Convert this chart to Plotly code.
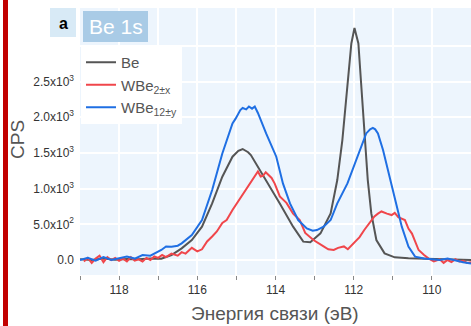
import plotly.graph_objects as go

# ---------------- data ----------------
be_e = [119.0, 118.7, 118.4, 118.1, 117.8, 117.5, 117.2, 116.92, 116.66, 116.4, 116.14, 115.88,
        115.62, 115.36, 115.1, 114.95, 114.84, 114.7, 114.63, 114.5, 114.24, 113.89, 113.55,
        113.29, 113.11, 112.85, 112.59, 112.42, 112.29, 112.16, 112.06, 111.98, 111.88, 111.81,
        111.73, 111.64, 111.55, 111.42, 111.21, 110.95, 110.6, 110.2, 109.8, 109.4, 109.0]
be_cps = [10, 0, 20, 5, 15, 10, 20, 17, 70, 163, 280, 467, 793, 1167, 1447, 1530, 1555, 1510,
          1470, 1353, 1120, 793, 467, 257, 250, 373, 653, 1120, 1680, 2473, 3033, 3250, 3033,
          2473, 1773, 1120, 653, 280, 93, 37, 23, 15, 10, 5, 0]

wbe2_e = [118.9, 118.8, 118.7, 118.6, 118.5, 118.4, 118.3, 118.2, 118.1, 118.0, 117.9, 117.8,
          117.7, 117.6, 117.5, 117.4, 117.3, 117.2, 117.1, 117.0, 116.9, 116.8, 116.66, 116.5,
          116.4, 116.3, 116.14, 116.0, 115.88, 115.75, 115.62, 115.5, 115.36, 115.25, 115.1,
          114.93, 114.76, 114.58, 114.45, 114.38, 114.32, 114.25, 114.19, 114.1, 114.02, 113.89,
          113.72, 113.55, 113.38, 113.24, 113.03, 112.9, 112.77, 112.65, 112.51, 112.4, 112.25,
          112.15, 111.99, 111.85, 111.73, 111.6, 111.47, 111.38, 111.29, 111.15, 111.03, 110.95,
          110.86, 110.69, 110.6, 110.51, 110.42, 110.34, 110.2, 110.08, 109.95, 109.8, 109.7,
          109.6, 109.5, 109.4, 109.3, 109.2, 109.1, 109.0]
wbe2_cps = [-20, 30, -40, 20, 60, -30, 40, 0, 30, -10, 20, -20, 40, -10, 10, -20, 30, 0, 50, 30,
            70, 40, 90, 60, 110, 90, 170, 120, 150, 260, 330, 400, 520, 560, 700, 840, 980, 1120,
            1240, 1170, 1180, 1230, 1200, 1150, 1070, 890, 800, 650, 560, 380, 280, 230, 190, 150,
            140, 170, 190, 150, 240, 320, 420, 520, 610, 650, 680, 650, 630, 660, 600, 560, 440,
            370, 250, 140, 70, 20, -20, 10, -40, 0, -30, 10, -20, -10, -40, -30]

wbe12_e = [119.0, 118.8, 118.6, 118.4, 118.2, 118.0, 117.8, 117.6, 117.4, 117.2, 117.0, 116.92,
           116.8, 116.66, 116.5, 116.4, 116.14, 115.88, 115.62, 115.36, 115.1, 115.02, 114.9,
           114.84, 114.75, 114.68, 114.6, 114.53, 114.45, 114.24, 113.98, 113.81, 113.63, 113.42,
           113.2, 113.05, 112.94, 112.77, 112.59, 112.42, 112.16, 111.9, 111.68, 111.58, 111.51,
           111.45, 111.38, 111.25, 111.08, 110.95, 110.77, 110.6, 110.43, 110.2, 110.0, 109.8,
           109.6, 109.4, 109.2, 109.0]
wbe12_cps = [0, 30, -10, 40, 0, 30, 50, 20, 70, 60, 120, 140, 190, 187, 200, 233, 350, 560, 980,
             1493, 1913, 1980, 2100, 2130, 2110, 2150, 2120, 2150, 2060, 1773, 1447, 1073, 793,
             560, 443, 410, 420, 467, 560, 793, 1073, 1447, 1773, 1830, 1850, 1830, 1773, 1540,
             1167, 840, 467, 187, 47, 20, 10, 0, 20, -10, -30, -50]

series_names = ["Be", "WBe<sub>2±x</sub>", "WBe<sub>12±y</sub>"]
series_colors = ["#555555", "#f0464b", "#1f6fe3"]

x_tickvals = [118, 116, 114, 112, 110]
x_ticktext = ["118", "116", "114", "112", "110"]
y_tickvals = [0, 500, 1000, 1500, 2000, 2500, 3000]
y_ticktext = ["0.0", "5.0x10<sup>2</sup>", "1.0x10<sup>3</sup>", "1.5x10<sup>3</sup>",
              "2.0x10<sup>3</sup>", "2.5x10<sup>3</sup>", ""]

# ---------------- geometry helpers ----------------
W, H = 471, 326
L, R, T, B = 80, 0, 8, 51
PW, PH = W - L - R, H - T - B


def xp(px):
    return (px - L) / PW


def yp(py):
    return (H - B - py) / PH


FONT = "Arial, Liberation Sans, sans-serif"

fig = go.Figure()
for e, c, n, col in [(be_e, be_cps, series_names[0], series_colors[0]),
                     (wbe2_e, wbe2_cps, series_names[1], series_colors[1]),
                     (wbe12_e, wbe12_cps, series_names[2], series_colors[2])]:
    fig.add_trace(go.Scatter(x=e, y=c, mode="lines", name=n,
                             line=dict(color=col, width=2)))

fig.update_layout(
    width=W, height=H,
    margin=dict(l=L, r=R, t=T, b=B),
    paper_bgcolor="white",
    plot_bgcolor="#edf5fd",
    font=dict(family=FONT, color="#333333", size=12),
    showlegend=True,
    legend=dict(x=xp(81), y=yp(46), xanchor="left", yanchor="top",
                bgcolor="white", borderwidth=0,
                font=dict(size=15, color="#555555"),
                itemwidth=30, tracegroupgap=0),
    xaxis=dict(range=[119, 109], tickvals=x_tickvals, ticktext=x_ticktext,
               ticks="outside", ticklen=4, tickcolor="#888888",
               showgrid=True, gridcolor="white", gridwidth=1.5,
               minor=dict(dtick=1, tick0=109, ticks="outside", ticklen=4, tickcolor="#888888",
                          showgrid=True, gridcolor="white", gridwidth=1.5),
               zeroline=False, showline=False, tickfont=dict(size=12, color="#333333")),
    yaxis=dict(range=[-210, 3530], tickvals=y_tickvals, ticktext=y_ticktext,
               ticks="", showgrid=True, gridcolor="white", gridwidth=1.5,
               zeroline=False, showline=False, ticklabelstandoff=5,
               tickfont=dict(size=12, color="#333333")),
)

shapes = [
    # left red bar
    dict(type="rect", xref="paper", yref="paper", x0=xp(3), x1=xp(8), y0=yp(H), y1=yp(0),
         fillcolor="#c20000", line=dict(width=0), layer="above"),
    # "a" box
    dict(type="rect", xref="paper", yref="paper", x0=xp(50), x1=xp(76), y0=yp(37), y1=yp(8),
         fillcolor="#d8eaf6", line=dict(width=0), layer="above"),
    # "Be 1s" box
    dict(type="rect", xref="paper", yref="paper", x0=xp(83), x1=xp(148), y0=yp(42), y1=yp(11),
         fillcolor="#a9cbe6", line=dict(width=0), layer="above"),
]
fig.update_layout(shapes=shapes)

annotations = [
    dict(text="<b>a</b>", xref="paper", yref="paper", x=xp(63), y=yp(23), showarrow=False,
         font=dict(size=16, color="black", family=FONT), xanchor="center", yanchor="middle"),
    dict(text="Be 1s", xref="paper", yref="paper", x=xp(115.5), y=yp(27), showarrow=False,
         font=dict(size=21, color="white", family=FONT), xanchor="center", yanchor="middle"),
    dict(text="CPS", xref="paper", yref="paper", x=xp(17), y=yp(140), showarrow=False,
         textangle=-90, font=dict(size=19, color="#555555", family=FONT),
         xanchor="center", yanchor="middle"),
    dict(text="Энергия связи (эВ)", xref="paper", yref="paper", x=xp(275), y=yp(313),
         showarrow=False, font=dict(size=19, color="#555555", family=FONT),
         xanchor="center", yanchor="middle"),
]
fig.update_layout(annotations=annotations)

fig.write_html("out.html")
